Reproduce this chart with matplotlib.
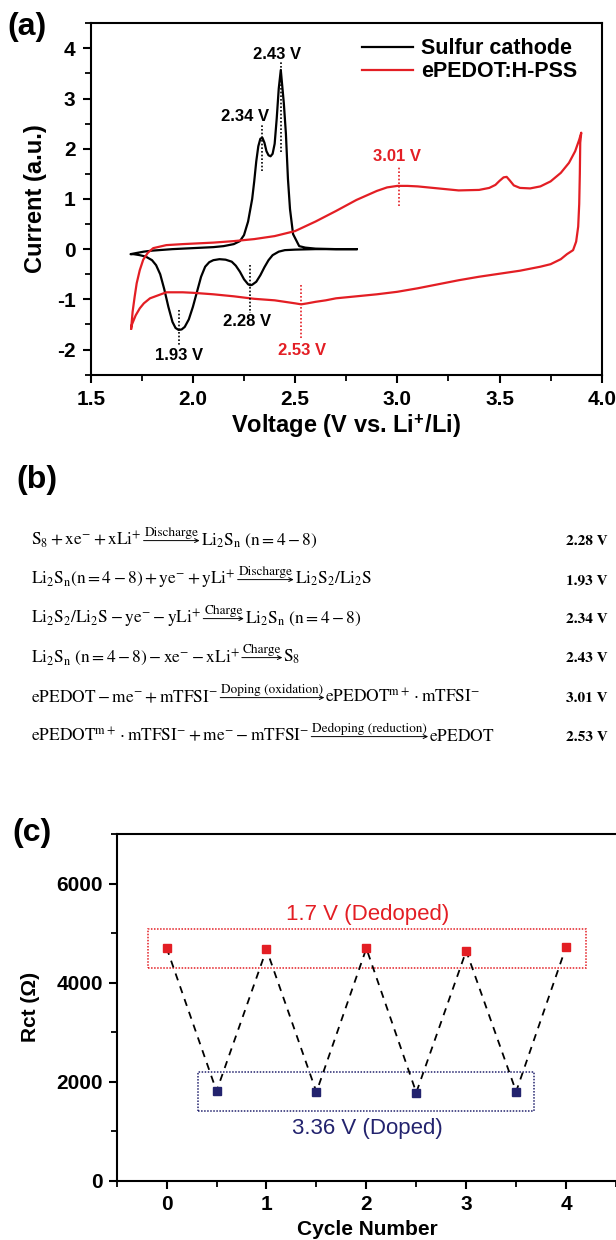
import numpy as np
import matplotlib
matplotlib.use("Agg")
import matplotlib.pyplot as plt
from matplotlib.patches import Rectangle, FancyArrowPatch
from matplotlib.ticker import MultipleLocator

# ---------------------------------------------------------------
# Data (a): cyclic voltammetry
# ---------------------------------------------------------------
# sulfur cathode: cathodic sweep 2.8 -> 1.7 V, then anodic sweep back
sulfur_v = [2.80, 2.70, 2.60, 2.50, 2.45, 2.42, 2.39, 2.37, 2.35, 2.33, 2.31,
            2.29, 2.28, 2.27, 2.25, 2.23, 2.21, 2.19, 2.16, 2.13, 2.10, 2.08,
            2.06, 2.04, 2.02, 2.00, 1.98, 1.96, 1.945, 1.93, 1.915, 1.90, 1.88,
            1.86, 1.84, 1.82, 1.80, 1.77, 1.74, 1.71, 1.695,
            1.72, 1.76, 1.80, 1.90, 2.00, 2.10, 2.15, 2.20, 2.23, 2.25, 2.27,
            2.29, 2.30, 2.31, 2.32, 2.33, 2.34, 2.35, 2.36, 2.37, 2.38, 2.39,
            2.40, 2.41, 2.42, 2.43, 2.445, 2.455, 2.465, 2.475, 2.49, 2.52,
            2.55, 2.60, 2.70, 2.80]
sulfur_i = [0.00, 0.00, 0.00, -0.01, -0.02, -0.05, -0.12, -0.22, -0.36, -0.52,
            -0.65, -0.71, -0.72, -0.70, -0.60, -0.45, -0.33, -0.25, -0.21,
            -0.20, -0.22, -0.26, -0.35, -0.55, -0.85, -1.15, -1.40, -1.55,
            -1.60, -1.61, -1.57, -1.45, -1.15, -0.80, -0.50, -0.32, -0.22,
            -0.15, -0.12, -0.10, -0.10,
            -0.08, -0.05, -0.03, 0.00, 0.02, 0.04, 0.06, 0.10, 0.16, 0.28, 0.55,
            1.00, 1.35, 1.75, 2.05, 2.20, 2.22, 2.12, 1.95, 1.87, 1.85, 1.90,
            2.10, 2.60, 3.20, 3.57, 2.90, 2.30, 1.40, 0.80, 0.30, 0.06,
            0.03, 0.01, 0.00, 0.00]

# ePEDOT:H-PSS: anodic sweep 1.7 -> 3.9 V, then cathodic sweep back
pedot_v = [1.698, 1.705, 1.715, 1.725, 1.74, 1.757, 1.78, 1.806, 1.87, 1.95,
           2.00, 2.10, 2.20, 2.30, 2.40, 2.50, 2.60, 2.70, 2.80, 2.90, 2.95,
           3.00, 3.05, 3.10, 3.20, 3.30, 3.40, 3.45, 3.48, 3.50, 3.52, 3.535,
           3.55, 3.57, 3.60, 3.65, 3.70, 3.75, 3.80, 3.84, 3.87, 3.89, 3.90,
           3.895, 3.893, 3.89, 3.885, 3.875, 3.86, 3.83, 3.80, 3.75, 3.70,
           3.60, 3.50, 3.40, 3.30, 3.20, 3.10, 3.00, 2.90, 2.80, 2.70, 2.65,
           2.60, 2.56, 2.53, 2.50, 2.45, 2.40, 2.30, 2.20, 2.10, 2.00, 1.95,
           1.90, 1.87, 1.83, 1.79, 1.76, 1.74, 1.72, 1.71, 1.70, 1.698]
pedot_i = [-1.58, -1.25, -0.95, -0.68, -0.42, -0.21, -0.07, 0.02, 0.08, 0.10,
           0.11, 0.13, 0.16, 0.20, 0.26, 0.36, 0.55, 0.76, 0.98, 1.16, 1.23,
           1.26, 1.26, 1.25, 1.21, 1.17, 1.18, 1.22, 1.28, 1.36, 1.43, 1.44,
           1.37, 1.27, 1.22, 1.21, 1.25, 1.35, 1.52, 1.72, 1.95, 2.18, 2.32,
           2.12, 1.50, 0.90, 0.45, 0.15, -0.02, -0.10, -0.20, -0.30, -0.35,
           -0.43, -0.49, -0.55, -0.62, -0.70, -0.78, -0.85, -0.90, -0.94,
           -0.98, -1.02, -1.05, -1.08, -1.10, -1.08, -1.05, -1.02, -0.99,
           -0.94, -0.90, -0.87, -0.86, -0.86, -0.86, -0.92, -0.98, -1.08,
           -1.18, -1.32, -1.42, -1.52, -1.58]

# peak labels: voltage, dotted line from/to, label position, colour key
peak_v = [2.43, 2.34, 2.28, 1.93, 3.01, 2.53]
peak_line = [(1.94, 3.72), (1.55, 2.48), (-0.32, -1.27), (-1.21, -1.91),
             (0.85, 1.65), (-0.71, -1.81)]
peak_text_xy = [(2.41, 3.88), (2.255, 2.65), (2.265, -1.45), (1.932, -2.11),
                (3.00, 1.85), (2.536, -2.01)]
peak_is_pedot = [False, False, False, False, True, True]

# ---------------------------------------------------------------
# Data (b): reactions
# ---------------------------------------------------------------
eq_left = [r'$\mathrm{S_8 + xe^{-} + xLi^{+}}$',
           r'$\mathrm{Li_2S_n(n = 4 - 8) + ye^{-} + yLi^{+}}$',
           r'$\mathrm{Li_2S_2/Li_2S - ye^{-} - yLi^{+}}$',
           r'$\mathrm{Li_2S_n\ (n = 4 - 8) - xe^{-} - xLi^{+}}$',
           r'$\mathrm{ePEDOT - me^{-} + mTFSI^{-}}$',
           r'$\mathrm{ePEDOT^{m+} \cdot mTFSI^{-} + me^{-} - mTFSI^{-}}$']
eq_arrow = ['Discharge', 'Discharge', 'Charge', 'Charge',
            'Doping (oxidation)', 'Dedoping (reduction)']
eq_right = [r'$\mathrm{Li_2S_n\ (n = 4 - 8)}$',
            r'$\mathrm{Li_2S_2/Li_2S}$',
            r'$\mathrm{Li_2S_n\ (n = 4 - 8)}$',
            r'$\mathrm{S_8}$',
            r'$\mathrm{ePEDOT^{m+} \cdot mTFSI^{-}}$',
            r'$\mathrm{ePEDOT}$']
eq_volt = ['2.28 V', '1.93 V', '2.34 V', '2.43 V', '3.01 V', '2.53 V']

# ---------------------------------------------------------------
# Data (c): charge-transfer resistance
# ---------------------------------------------------------------
dedoped_cycle = [0, 1, 2, 3, 4]
dedoped_rct = [4700, 4670, 4690, 4640, 4720]
doped_cycle = [0.5, 1.5, 2.5, 3.5]
doped_rct = [1810, 1790, 1780, 1800]

# ---------------------------------------------------------------
# Style
# ---------------------------------------------------------------
plt.rcParams.update({
    'font.family': 'Liberation Sans',
    'font.weight': 'bold',
    'axes.labelweight': 'bold',
    'axes.linewidth': 1.5,
    'axes.unicode_minus': False,
    'xtick.direction': 'out',
    'ytick.direction': 'out',
    'xtick.major.width': 1.5,
    'ytick.major.width': 1.5,
    'xtick.minor.width': 1.3,
    'ytick.minor.width': 1.3,
    # serif maths for the reaction list, sans bold for the axis label
    'mathtext.fontset': 'custom',
    'mathtext.rm': 'STIXGeneral:weight=normal',
    'mathtext.it': 'STIXGeneral:italic:weight=normal',
    'mathtext.bf': 'Liberation Sans:bold',
})

RED = '#e31e24'
NAVY = '#23236e'
W, H = 616, 1240

fig = plt.figure(figsize=(W / 100, H / 100), dpi=100)


def box(l, t, r, b):
    return [l / W, 1 - b / H, (r - l) / W, (b - t) / H]


# ---------------- (a) ----------------
ax1 = fig.add_axes(box(90.7, 23.3, 601.7, 374.6))
ax1.plot(sulfur_v, sulfur_i, color='black', lw=1.6, label='Sulfur cathode')
ax1.plot(pedot_v, pedot_i, color=RED, lw=1.6, label='ePEDOT:H-PSS')
for v, (y0, y1), (tx, ty), red in zip(peak_v, peak_line, peak_text_xy, peak_is_pedot):
    c = RED if red else 'black'
    ax1.plot([v, v], [y0, y1], ls=(0, (1, 1.2)), color=c, lw=1.2)
    ax1.text(tx, ty, f'{v:.2f} V', color=c, fontsize=12, fontweight='bold',
             ha='center', va='center')
ax1.set_xlim(1.5, 4.0)
ax1.set_ylim(-2.5, 4.5)
ax1.xaxis.set_major_locator(MultipleLocator(0.5))
ax1.xaxis.set_minor_locator(MultipleLocator(0.25))
ax1.yaxis.set_major_locator(MultipleLocator(1))
ax1.yaxis.set_minor_locator(MultipleLocator(0.5))
ax1.tick_params(which='major', length=6, labelsize=15, pad=5)
ax1.tick_params(which='minor', length=4)
ax1.xaxis.set_major_formatter(plt.FormatStrFormatter('%.1f'))
ax1.set_xlabel(r'Voltage (V vs. Li$^{\mathbf{+}}$/Li)', fontsize=17)
ax1.set_ylabel('Current (a.u.)', fontsize=17)
ax1.xaxis.set_label_coords(0.5, -0.146)
ax1.xaxis.label.set_va('center')
ax1.yaxis.set_label_coords(-0.109, 0.5)
ax1.yaxis.label.set_va('center')
ax1.legend(loc='upper left', bbox_to_anchor=(0.530, 0.958), frameon=False,
           borderpad=0, borderaxespad=0, handlelength=2.4, handletextpad=0.35,
           labelspacing=0.1, prop={'weight': 'bold', 'size': 15.5})
fig.text(7 / W, 1 - 27 / H, '(a)', fontsize=23, fontweight='bold',
         ha='left', va='center')

# ---------------- (b) ----------------
fig.text(16 / W, 1 - 480 / H, '(b)', fontsize=23, fontweight='bold',
         ha='left', va='center')
renderer = fig.canvas.get_renderer()
eq_base = [545, 584, 623, 662, 702, 741]
x_start = 31
for left, lab, right, volt, yb in zip(eq_left, eq_arrow, eq_right, eq_volt, eq_base):
    t1 = fig.text(x_start / W, 1 - yb / H, left, fontsize=12.5, ha='left',
                  va='baseline', fontweight='normal')
    x1 = t1.get_window_extent(renderer).x1
    tl = fig.text(0, 1 - (yb - 9) / H, lab, fontsize=9.5, ha='center',
                  va='baseline', family='STIXGeneral', fontweight='normal')
    lw_ = tl.get_window_extent(renderer).width
    a0 = x1 + 2
    a1 = a0 + lw_ + 2
    tl.set_x((a0 + a1) / 2 / W)
    ya = 1 - (yb - 4.4) / H
    fig.add_artist(FancyArrowPatch((a0 / W, ya), (a1 / W, ya),
                                   transform=fig.transFigure, arrowstyle='->',
                                   mutation_scale=7, lw=0.7, color='black',
                                   shrinkA=0, shrinkB=0))
    fig.text((a1 + 1) / W, 1 - yb / H, right, fontsize=12.5, ha='left',
             va='baseline', fontweight='normal')
    fig.text(608 / W, 1 - yb / H, volt, fontsize=11, ha='right',
             va='baseline', family='STIXGeneral', fontweight='bold')

# ---------------- (c) ----------------
ax3 = fig.add_axes(box(116.7, 834, 618, 1180.7))
zig_x = np.empty(len(dedoped_cycle) + len(doped_cycle))
zig_y = np.empty_like(zig_x)
zig_x[0::2], zig_x[1::2] = dedoped_cycle, doped_cycle
zig_y[0::2], zig_y[1::2] = dedoped_rct, doped_rct
ax3.plot(zig_x, zig_y, color='black', lw=1.3, ls=(0, (4, 3.5)))
ax3.plot(dedoped_cycle, dedoped_rct, 's', color=RED, ms=5.5, zorder=3)
ax3.plot(doped_cycle, doped_rct, 's', color=NAVY, ms=5.5, zorder=3)
ax3.add_patch(Rectangle((-0.19, 4300), 4.39, 780, fill=False, ec=RED,
                        lw=1.1, ls=(0, (1, 1))))
ax3.add_patch(Rectangle((0.31, 1405), 3.37, 785, fill=False, ec=NAVY,
                        lw=1.1, ls=(0, (1, 1))))
ax3.text(2.01, 5380, '1.7 V (Dedoped)', color=RED, fontsize=16,
         fontweight='normal', ha='center', va='center')
ax3.text(2.01, 1050, '3.36 V (Doped)', color=NAVY, fontsize=16,
         fontweight='normal', ha='center', va='center')
ax3.set_xlim(-0.5, 4.52)
ax3.set_ylim(0, 7000)
ax3.set_xticks([0, 1, 2, 3, 4])
ax3.xaxis.set_minor_locator(MultipleLocator(0.5))
ax3.yaxis.set_major_locator(MultipleLocator(2000))
ax3.yaxis.set_minor_locator(MultipleLocator(1000))
ax3.tick_params(which='major', length=6, labelsize=15, pad=4)
ax3.tick_params(which='minor', length=4)
ax3.spines['right'].set_visible(False)
ax3.set_xlabel('Cycle Number', fontsize=15)
ax3.set_ylabel('Rct (Ω)', fontsize=15)
ax3.xaxis.set_label_coords(0.5, -0.142)
ax3.xaxis.label.set_va('center')
ax3.yaxis.set_label_coords(-0.171, 0.5)
ax3.yaxis.label.set_va('center')
fig.text(12 / W, 1 - 833 / H, '(c)', fontsize=23, fontweight='bold',
         ha='left', va='center')

fig.savefig('out.png', dpi=100)
